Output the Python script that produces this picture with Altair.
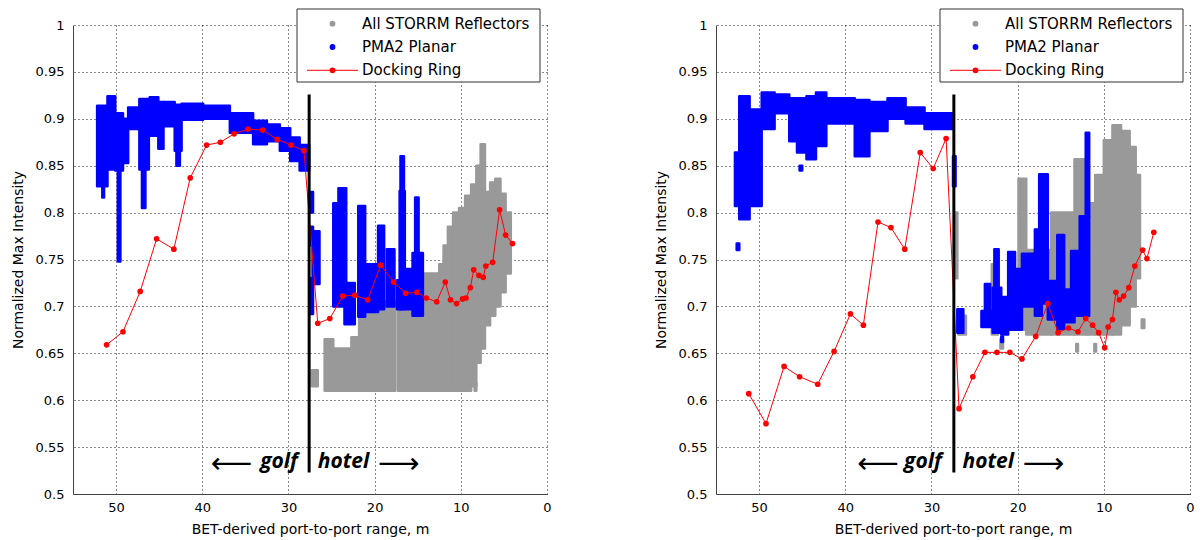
import altair as alt
import pandas as pd

# ---------------- data ----------------
X_TICKS = [50, 40, 30, 20, 10, 0]
Y_TICKS = [0.5, 0.55, 0.6, 0.65, 0.7, 0.75, 0.8, 0.85, 0.9, 0.95, 1.0]
LEGEND_LABELS = ["All STORRM Reflectors", "PMA2 Planar", "Docking Ring"]
X_TITLE = "BET-derived port-to-port range, m"
Y_TITLE = "Normalized Max Intensity"

# Docking Ring (red line + dots)
left_ring_x = [51.1, 49.2, 47.2, 45.3, 43.3, 41.4, 39.5, 37.9, 36.3, 34.7, 33.0, 31.3, 29.7, 28.2,
               26.6, 25.2, 23.7, 22.3, 20.8, 19.3, 17.8, 16.4, 15.1, 14.0, 12.8, 11.8, 11.2, 10.5,
               9.8, 9.4, 8.9, 8.5, 7.9, 7.4, 7.1, 6.3, 5.5, 4.8, 4.0]
left_ring_y = [0.659, 0.673, 0.716, 0.772, 0.761, 0.837, 0.872, 0.875, 0.884, 0.889, 0.888, 0.878, 0.872, 0.866,
               0.682, 0.687, 0.711, 0.712, 0.707, 0.744, 0.726, 0.714, 0.715, 0.709, 0.705, 0.726, 0.707, 0.703,
               0.708, 0.709, 0.720, 0.739, 0.733, 0.731, 0.743, 0.747, 0.803, 0.776, 0.767]
right_ring_x = [51.2, 49.2, 47.1, 45.3, 43.2, 41.3, 39.4, 37.9, 36.2, 34.7, 33.1, 31.3, 29.8, 28.3,
                26.8, 25.2, 23.8, 22.4, 20.9, 19.5, 17.9, 16.5, 15.3, 14.1, 13.0, 12.1, 11.3, 10.6,
                9.9, 9.5, 9.0, 8.6, 8.2, 7.7, 7.1, 6.4, 5.5, 5.0, 4.2]
right_ring_y = [0.607, 0.575, 0.636, 0.625, 0.617, 0.652, 0.692, 0.680, 0.790, 0.784, 0.761, 0.864, 0.847, 0.879,
                0.591, 0.625, 0.651, 0.651, 0.651, 0.644, 0.668, 0.703, 0.672, 0.677, 0.673, 0.687, 0.680, 0.672,
                0.656, 0.678, 0.686, 0.715, 0.707, 0.711, 0.720, 0.743, 0.760, 0.751, 0.779]

# Dense point clouds, read as vertical streaks: (x from, x to, y low, y high)
left_blue = [
    (52.2, 51.0, 0.828, 0.914), (51.6, 51.4, 0.816, 0.828), (51.0, 50.1, 0.846, 0.924),
    (50.1, 49.2, 0.845, 0.906), (49.8, 49.5, 0.748, 0.845), (49.3, 48.6, 0.853, 0.900),
    (48.6, 47.3, 0.889, 0.912), (47.3, 46.2, 0.846, 0.921), (47.0, 46.6, 0.805, 0.846),
    (46.1, 45.1, 0.882, 0.923), (45.1, 44.5, 0.868, 0.918), (44.5, 43.2, 0.892, 0.918),
    (43.2, 42.4, 0.866, 0.915), (43.0, 42.6, 0.850, 0.866), (42.4, 39.9, 0.899, 0.916),
    (39.9, 36.8, 0.900, 0.914), (36.8, 34.1, 0.885, 0.906), (34.1, 32.5, 0.873, 0.898),
    (32.5, 31.0, 0.876, 0.894), (31.0, 29.8, 0.866, 0.890), (29.8, 28.7, 0.855, 0.880),
    (28.7, 27.6, 0.845, 0.872),
    (27.45, 27.15, 0.800, 0.822), (27.45, 27.15, 0.765, 0.785), (27.45, 27.15, 0.692, 0.730),
    (27.2, 26.4, 0.724, 0.780), (24.8, 23.3, 0.700, 0.810), (24.2, 23.3, 0.810, 0.826),
    (23.5, 22.3, 0.681, 0.725), (21.9, 21.1, 0.689, 0.807), (21.1, 19.6, 0.694, 0.745),
    (19.6, 18.9, 0.697, 0.786), (18.6, 17.7, 0.700, 0.761), (17.4, 16.8, 0.697, 0.728),
    (17.1, 16.5, 0.697, 0.823), (17.0, 16.6, 0.823, 0.860), (16.5, 15.7, 0.697, 0.740),
    (15.6, 14.4, 0.690, 0.757), (15.3, 14.9, 0.757, 0.816),
]
left_gray = [
    (27.3, 26.6, 0.615, 0.632), (25.8, 24.8, 0.610, 0.665), (24.8, 22.7, 0.610, 0.655),
    (22.7, 21.8, 0.610, 0.667), (21.8, 19.3, 0.610, 0.695), (19.3, 17.6, 0.610, 0.705),
    (17.3, 14.7, 0.610, 0.700), (14.7, 12.5, 0.610, 0.735), (12.5, 12.0, 0.610, 0.745),
    (12.0, 11.5, 0.610, 0.765), (11.5, 10.9, 0.610, 0.785), (10.9, 10.2, 0.610, 0.800),
    (10.2, 9.5, 0.610, 0.805), (9.5, 8.8, 0.610, 0.818), (8.8, 8.2, 0.615, 0.830),
    (8.2, 7.7, 0.640, 0.850), (7.7, 7.2, 0.655, 0.873), (7.2, 6.6, 0.680, 0.822),
    (6.6, 6.0, 0.690, 0.832), (6.0, 5.4, 0.700, 0.836), (5.4, 4.8, 0.715, 0.820),
    (4.8, 4.2, 0.735, 0.800), (8.4, 8.2, 0.610, 0.618),
]
right_blue = [
    (52.6, 52.3, 0.760, 0.767), (52.8, 51.7, 0.807, 0.864), (52.3, 51.1, 0.793, 0.924),
    (51.3, 49.7, 0.807, 0.910), (49.7, 48.2, 0.889, 0.928), (48.2, 46.5, 0.906, 0.926),
    (46.5, 45.6, 0.876, 0.922), (45.6, 44.5, 0.864, 0.922), (45.3, 45.0, 0.845, 0.850),
    (44.5, 43.4, 0.857, 0.924), (43.4, 42.2, 0.871, 0.928), (42.2, 38.9, 0.895, 0.922),
    (38.9, 37.2, 0.860, 0.920), (37.2, 35.1, 0.887, 0.918), (35.1, 33.0, 0.900, 0.922),
    (33.0, 30.8, 0.895, 0.912), (30.8, 27.5, 0.889, 0.906), (27.5, 27.2, 0.828, 0.860),
    (27.0, 26.3, 0.672, 0.697), (24.2, 22.9, 0.678, 0.695), (23.8, 23.2, 0.695, 0.724),
    (22.9, 21.9, 0.672, 0.720), (22.7, 22.2, 0.720, 0.761), (21.9, 21.1, 0.670, 0.710),
    (21.9, 21.7, 0.662, 0.668), (21.1, 20.3, 0.675, 0.758), (20.3, 19.5, 0.675, 0.740),
    (19.5, 18.0, 0.700, 0.756), (18.0, 17.2, 0.690, 0.782), (17.5, 16.5, 0.703, 0.841),
    (16.5, 15.4, 0.686, 0.727), (15.4, 14.6, 0.676, 0.776), (14.6, 13.4, 0.683, 0.718),
    (13.8, 12.8, 0.690, 0.759), (12.8, 11.7, 0.690, 0.796), (12.1, 11.7, 0.796, 0.885),
]
right_gray = [
    (27.25, 27.0, 0.730, 0.800), (26.9, 26.0, 0.670, 0.690), (23.0, 22.3, 0.670, 0.745),
    (22.0, 21.7, 0.655, 0.665), (19.9, 19.0, 0.675, 0.836), (19.0, 16.1, 0.670, 0.760),
    (16.1, 13.4, 0.670, 0.800), (13.4, 11.9, 0.670, 0.857), (11.9, 11.0, 0.670, 0.810),
    (11.0, 10.0, 0.670, 0.840), (10.0, 9.0, 0.670, 0.877), (9.0, 8.0, 0.670, 0.893),
    (8.0, 7.0, 0.680, 0.887), (7.0, 6.3, 0.700, 0.870), (6.3, 5.8, 0.730, 0.840),
    (5.6, 5.3, 0.677, 0.686), (13.2, 13.0, 0.652, 0.660), (11.1, 10.9, 0.652, 0.660),
]

# golf / hotel separator and annotation positions
left_split = 27.6
right_split = 27.4
split_y = [0.523, 0.926]
left_annot_x = [34.2, 28.9, 26.6, 19.6]
right_annot_x = [33.8, 28.8, 26.4, 19.4]
annot_words = ["golf", "hotel"]
annot_arrows = ["\u27f5", "\u27f6"]

GRAY, BLUE, RED = "#999999", "#0000ff", "#ff0000"
W, H = 474, 469
FONT = "DejaVu Sans"


def xenc(field):
    return alt.X(field, type="quantitative",
                 scale=alt.Scale(domain=[0, 55], reverse=True, nice=False, zero=False),
                 axis=alt.Axis(values=X_TICKS, title=X_TITLE, grid=True, gridDash=[1, 3],
                               gridColor="#000000", gridOpacity=0.9, ticks=False,
                               domainColor="#444444", labelFont=FONT, labelFontSize=13,
                               labelColor="#000000", labelPadding=7, labelFlush=False,
                               titleFont=FONT, titleFontSize=14, titleFontWeight="normal",
                               titleColor="#000000", titleY=35, titleBaseline="middle"))


def yenc(field):
    return alt.Y(field, type="quantitative",
                 scale=alt.Scale(domain=[0.5, 1.0], nice=False, zero=False),
                 axis=alt.Axis(values=Y_TICKS, format="~g", title=Y_TITLE, grid=True,
                               gridDash=[1, 3], gridColor="#000000", gridOpacity=0.9,
                               ticks=False, domainColor="#444444", labelFont=FONT,
                               labelFontSize=13, labelColor="#000000", labelPadding=9,
                               labelFlush=False, titleFont=FONT, titleFontSize=14,
                               titleFontWeight="normal", titleColor="#000000",
                               titleX=-55, titleY=H / 2, titleBaseline="middle"))


def cloud(segs, color):
    df = pd.DataFrame(segs, columns=["x1", "x2", "lo", "hi"])
    return alt.Chart(df).mark_rect(color=color, stroke=color, strokeWidth=2.5,
                                   strokeJoin="round").encode(
        x=xenc("x1"), x2="x2", y=yenc("lo"), y2="hi")


def panel(gray, blue, ring_x, ring_y, split, annot_x):
    ring = pd.DataFrame({"x": ring_x, "y": ring_y})
    line = alt.Chart(ring).mark_line(color=RED, strokeWidth=1).encode(x=xenc("x"), y=yenc("y"))
    dots = alt.Chart(ring).mark_circle(color=RED, size=32, opacity=1).encode(x=xenc("x"), y=yenc("y"))
    sep = alt.Chart(pd.DataFrame({"x": [split], "y1": [split_y[0]], "y2": [split_y[1]]})).mark_rule(
        color="#000000", strokeWidth=3).encode(x=xenc("x"), y=yenc("y1"), y2="y2")
    words = pd.DataFrame({"x": [annot_x[1], annot_x[2]], "y": [0.528, 0.528], "t": annot_words})
    w_right = alt.Chart(words.iloc[[0]]).mark_text(
        font="Open Sans", fontSize=21, fontWeight="bold", fontStyle="italic", align="right",
        baseline="alphabetic", color="#000000").encode(x=xenc("x"), y=yenc("y"), text="t")
    w_left = alt.Chart(words.iloc[[1]]).mark_text(
        font="Open Sans", fontSize=21, fontWeight="bold", fontStyle="italic", align="left",
        baseline="alphabetic", color="#000000").encode(x=xenc("x"), y=yenc("y"), text="t")
    arrows = pd.DataFrame({"x": [annot_x[0], annot_x[3]], "y": [0.532, 0.532], "t": annot_arrows})
    a_right = alt.Chart(arrows.iloc[[0]]).mark_text(
        font=FONT, fontSize=29, align="right", baseline="middle", color="#000000").encode(
        x=xenc("x"), y=yenc("y"), text="t")
    a_left = alt.Chart(arrows.iloc[[1]]).mark_text(
        font=FONT, fontSize=29, align="left", baseline="middle", color="#000000").encode(
        x=xenc("x"), y=yenc("y"), text="t")

    # legend box (drawn as marks, pixel offsets from the plot origin)
    one = pd.DataFrame({"k": [0]})
    box = alt.Chart(one).mark_rect(fill="#ffffff", stroke="#333333", strokeWidth=1).encode(
        x=alt.value(224), x2=alt.value(467), y=alt.value(-16), y2=alt.value(57))
    leg = [box]
    rows = [-1.3, 22.0, 45.3]
    cols = [GRAY, BLUE, RED]
    leg.append(alt.Chart(one).mark_rule(color=RED, strokeWidth=1).encode(
        x=alt.value(234), x2=alt.value(285), y=alt.value(rows[2])))
    for lab, r, c in zip(LEGEND_LABELS, rows, cols):
        leg.append(alt.Chart(one).mark_circle(color=c, size=34, opacity=1).encode(
            x=alt.value(259.5), y=alt.value(r)))
        leg.append(alt.Chart(pd.DataFrame({"t": [lab]})).mark_text(
            font=FONT, fontSize=15, align="left", baseline="middle", color="#000000").encode(
            x=alt.value(289), y=alt.value(r), text="t"))

    return alt.layer(cloud(gray, GRAY), cloud(blue, BLUE), line, dots, sep,
                     w_right, w_left, a_right, a_left, *leg).properties(width=W, height=H)


left = panel(left_gray, left_blue, left_ring_x, left_ring_y, left_split, left_annot_x)
right = panel(right_gray, right_blue, right_ring_x, right_ring_y, right_split, right_annot_x)

chart = alt.hconcat(left, right, spacing=169).properties(
    bounds="flush", padding={"left": 11, "top": 8, "right": 5, "bottom": 2},
    background="#ffffff").configure_view(stroke=None)

chart.save("out.html", embed_options={"renderer": "svg", "actions": False})
